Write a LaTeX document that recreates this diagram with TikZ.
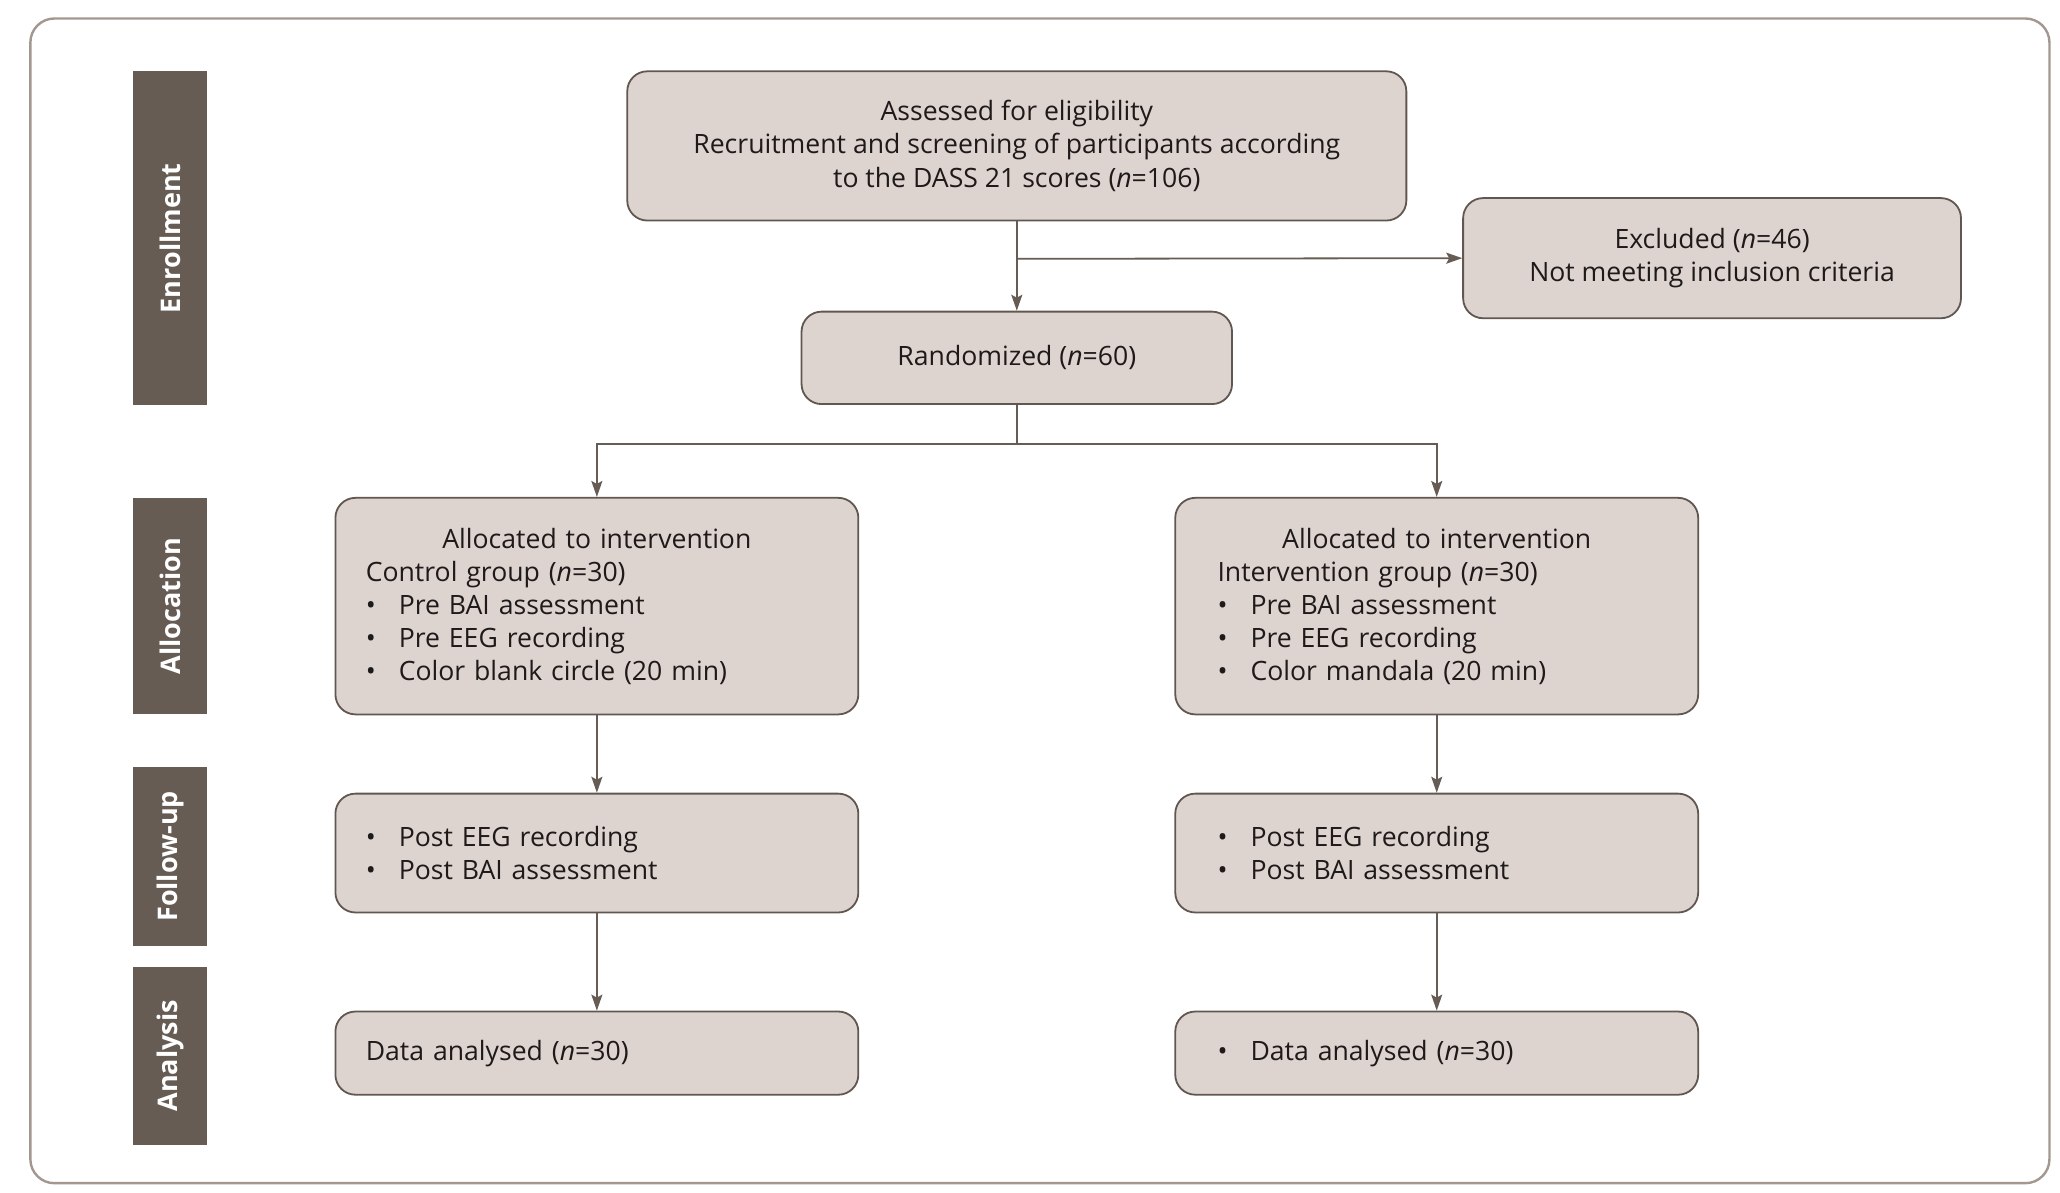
\documentclass[tikz,border=0pt]{standalone}
\usepackage{fontspec}
\setmainfont{Open Sans}
\usetikzlibrary{arrows.meta}
\newlength\ux
\setlength\ux{0.66pt}
\definecolor{barc}{HTML}{665C54}
\definecolor{boxfill}{HTML}{DDD3CF}
\definecolor{boxline}{HTML}{615750}
\definecolor{framec}{HTML}{A39790}
\definecolor{txt}{HTML}{1E1A1A}
\newcommand{\bul}[1]{\makebox[25\ux][l]{•}#1}
\newcommand{\ctr}[1]{\makebox[350\ux]{#1}}
\tikzset{
  box/.style={draw=boxline, fill=boxfill, line width=0.9pt, rounded corners=10pt,
    text=txt, font=\fontsize{13.3}{16.5}\selectfont, inner sep=0pt},
  lbox/.style={box, align=left, text width=350\ux, inner xsep=23\ux},
  cbox/.style={box, align=center},
  bar/.style={fill=barc, draw=none, inner sep=0pt},
  barlabel/.style={text=white, font=\fontsize{13.5}{15}\selectfont\bfseries, rotate=90},
  conn/.style={draw=barc, line width=0.9pt, -{Stealth[length=8pt, width=5.5pt, inset=1.5pt]}},
  line/.style={draw=barc, line width=0.9pt},
}
\begin{document}
\begin{tikzpicture}[x=\ux, y=-\ux]
\useasboundingbox (0,0) rectangle (1560,902.7);
% outer frame
\draw[framec, line width=1.2pt, rounded corners=12pt] (23,14) rectangle (1552,896);

% side bars
\node[bar, minimum width=56\ux, minimum height=253\ux] (b1) at (129,180.5) {};
\node[barlabel] (l1) at (b1.center) {Enrollment};
\node[bar, minimum width=56\ux, minimum height=164\ux] (b2) at (129,459) {};
\node[barlabel] (l2) at (b2.center) {Allocation};
\node[bar, minimum width=56\ux, minimum height=135\ux] (b3) at (129,648.5) {};
\node[barlabel] (l3) at (b3.center) {Follow-up};
\node[bar, minimum width=56\ux, minimum height=135\ux] (b4) at (129,799.5) {};
\node[barlabel] (l4) at (b4.center) {Analysis};

% boxes
\node[cbox, minimum width=590\ux, minimum height=113\ux] (top) at (770,110.5)
  {Assessed for eligibility\\Recruitment and screening of participants according\\to the DASS 21 scores (\textit{n}=106)};
\node[cbox, minimum width=377\ux, minimum height=91\ux] (excl) at (1296.5,195.5)
  {Excluded (\textit{n}=46)\\Not meeting inclusion criteria};
\node[cbox, minimum width=326\ux, minimum height=70\ux] (rand) at (770,271)
  {Randomized (\textit{n}=60)};

\node[lbox, minimum height=164\ux] (la) at (452,459)
  {\ctr{Allocated to intervention}\\Control group (\textit{n}=30)\\\bul{Pre BAI assessment}\\\bul{Pre EEG recording}\\\bul{Color blank circle (20 min)}};
\node[lbox, minimum height=164\ux] (ra) at (1088,459)
  {\ctr{Allocated to intervention}\\\hspace*{9\ux}Intervention group (\textit{n}=30)\\\hspace*{9\ux}\bul{Pre BAI assessment}\\\hspace*{9\ux}\bul{Pre EEG recording}\\\hspace*{9\ux}\bul{Color mandala (20 min)}};

\node[lbox, minimum height=90\ux] (lf) at (452,646)
  {\bul{Post EEG recording}\\\bul{Post BAI assessment}};
\node[lbox, minimum height=90\ux] (rf) at (1088,646)
  {\hspace*{9\ux}\bul{Post EEG recording}\\\hspace*{9\ux}\bul{Post BAI assessment}};

\node[lbox, minimum height=63\ux] (lan) at (452,797.5)
  {Data analysed (\textit{n}=30)};
\node[lbox, minimum height=63\ux] (ran) at (1088,797.5)
  {\hspace*{9\ux}\bul{Data analysed (\textit{n}=30)}};

% connectors
\coordinate (branch) at (770,196);
\coordinate (split) at (770,336);
\draw[conn] (top.south) -- (rand.north);
\draw[conn] (branch) -- (excl.west);
\draw[line] (rand.south) -- (split);
\draw[conn] (split) -| (la.north);
\draw[conn] (split) -| (ra.north);
\draw[conn] (la.south) -- (lf.north);
\draw[conn] (ra.south) -- (rf.north);
\draw[conn] (lf.south) -- (lan.north);
\draw[conn] (rf.south) -- (ran.north);
\end{tikzpicture}
\end{document}
